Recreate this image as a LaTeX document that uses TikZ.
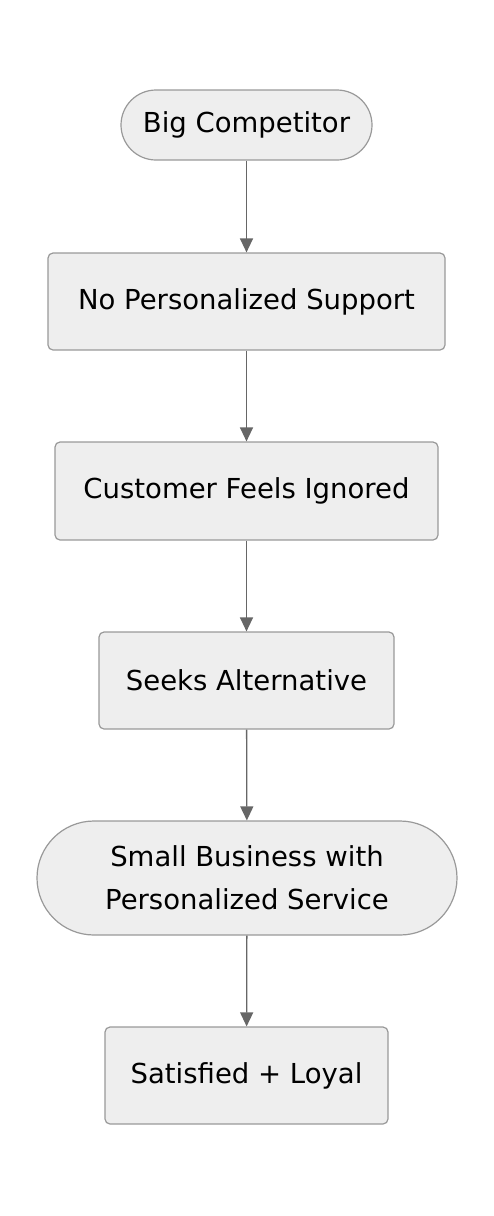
\documentclass[tikz,border=0pt]{standalone}
\usepackage{fontspec}
\setmainfont{DejaVu Sans}
\usetikzlibrary{arrows.meta}
\definecolor{nodefill}{HTML}{EEEEEE}
\definecolor{nodeline}{HTML}{999999}
\definecolor{edgeline}{HTML}{666666}
\begin{document}
\begin{tikzpicture}[x=1bp,y=-1bp,
  box/.style={draw=nodeline, fill=nodefill, line width=1.2bp, rounded corners=5bp,
    inner sep=0pt, align=center, font=\fontsize{27.5bp}{43bp}\selectfont},
  stadium/.style={box, rounded corners=#1},
  flow/.style={draw=edgeline, line width=1.3bp, -{Triangle[length=14bp,width=13bp]}}]
\useasboundingbox (0,0) rectangle (494,1216);
\node[stadium=35bp, minimum width=251bp, minimum height=70bp] (a) at (246.5,125) {Big Competitor};
\node[box, minimum width=397bp, minimum height=97bp] (b) at (246.5,301.5) {No Personalized Support};
\node[box, minimum width=383bp, minimum height=98bp] (c) at (246.5,491) {Customer Feels Ignored};
\node[box, minimum width=295bp, minimum height=97bp] (d) at (246.5,680.5) {Seeks Alternative};
\node[stadium=57bp, minimum width=420bp, minimum height=114bp] (e) at (247,878) {Small Business with\\Personalized Service};
\node[box, minimum width=283bp, minimum height=97bp] (f) at (246.5,1075.5) {Satisfied + Loyal};
\draw[flow] (a) -- (b);
\draw[flow] (b) -- (c);
\draw[flow] (c) -- (d);
\draw[flow] (d) -- (e);
\draw[flow] (e) -- (f);
\end{tikzpicture}
\end{document}
